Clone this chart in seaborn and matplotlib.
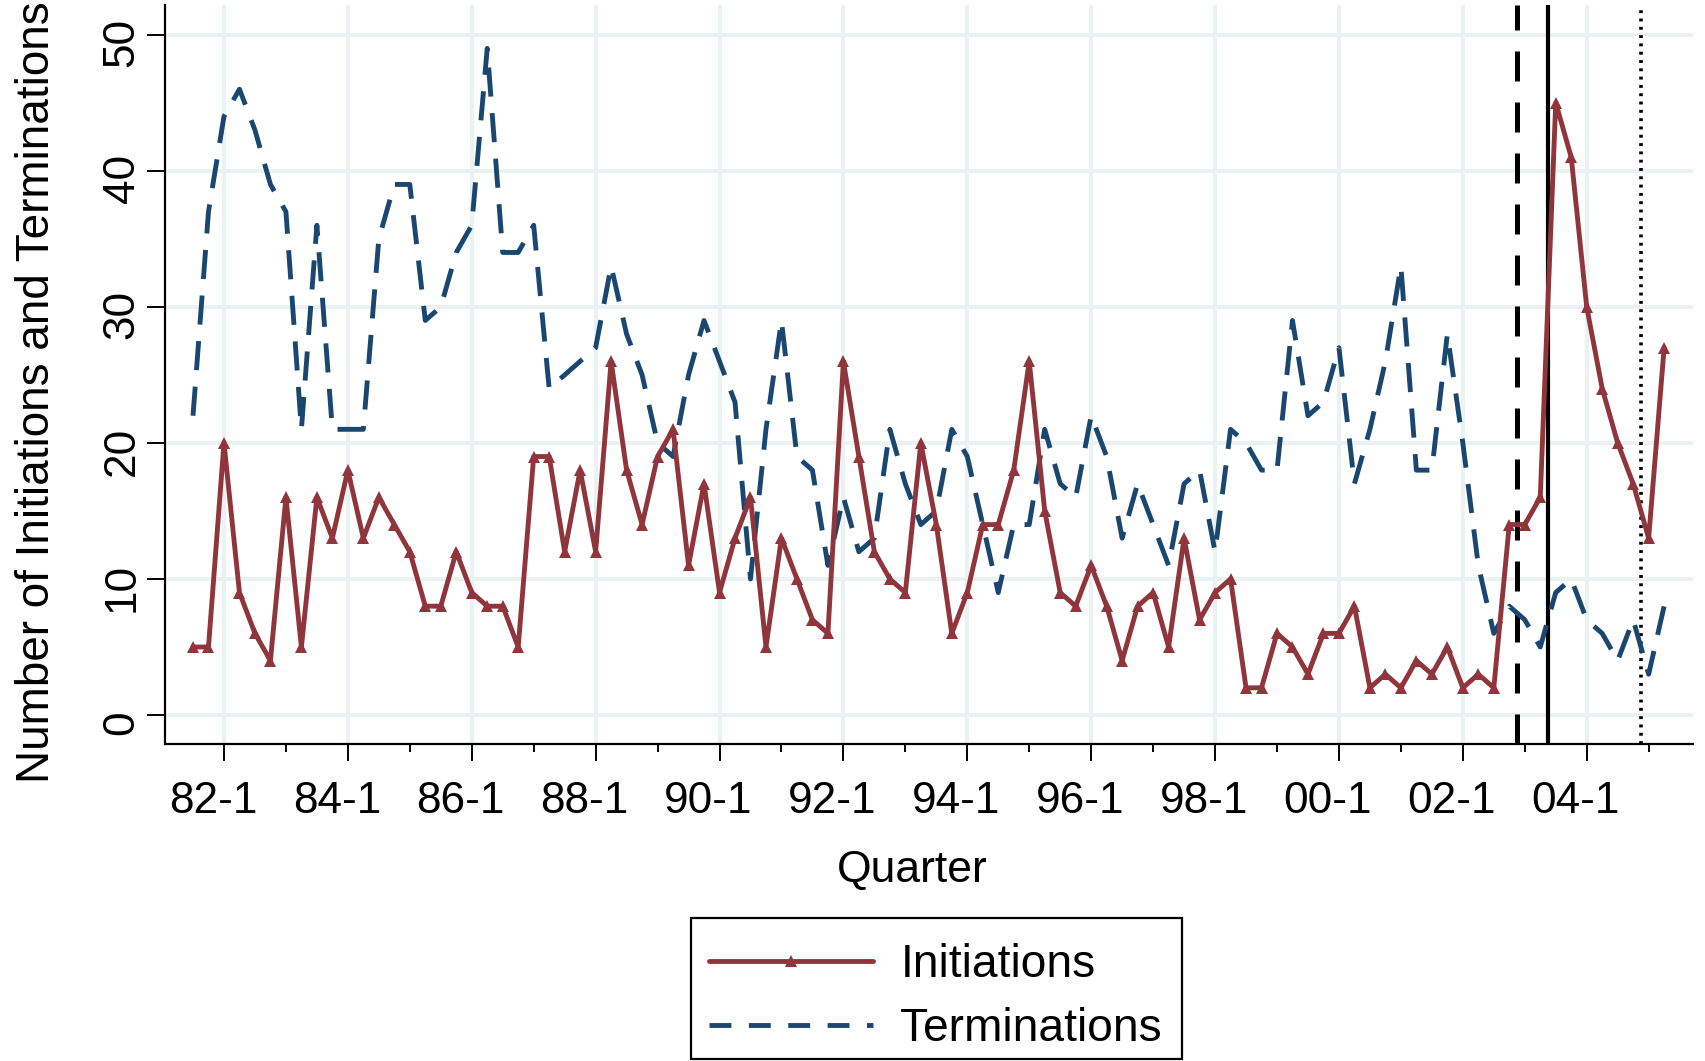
import numpy as np
import pandas as pd
import matplotlib
matplotlib.use("Agg")
import matplotlib.pyplot as plt
import matplotlib.transforms as mtransforms
from matplotlib.lines import Line2D
from matplotlib.patches import Rectangle
import seaborn as sns

# ---------------- data ----------------
quarters = pd.period_range("1981Q3", "2005Q2", freq="Q")

initiations = [5, 5,
               20, 9, 6, 4,
               16, 5, 16, 13,
               18, 13, 16, 14,
               12, 8, 8, 12,
               9, 8, 8, 5,
               19, 19, 12, 18,
               12, 26, 18, 14,
               19, 21, 11, 17,
               9, 13, 16, 5,
               13, 10, 7, 6,
               26, 19, 12, 10,
               9, 20, 14, 6,
               9, 14, 14, 18,
               26, 15, 9, 8,
               11, 8, 4, 8,
               9, 5, 13, 7,
               9, 10, 2, 2,
               6, 5, 3, 6,
               6, 8, 2, 3,
               2, 4, 3, 5,
               2, 3, 2, 14,
               14, 16, 45, 41,
               30, 24, 20, 17,
               13, 27]

terminations = [22, 37,
                44, 46, 43, 39,
                37, 21, 36, 21,
                21, 21, 35, 39,
                39, 29, 30, 34,
                36, 49, 34, 34,
                36, 24, 25, 26,
                27, 33, 28, 25,
                20, 19, 25, 29,
                26, 23, 10, 21,
                29, 19, 18, 11,
                16, 12, 13, 21,
                17, 14, 15, 21,
                19, 14, 9, 14,
                14, 21, 17, 16,
                22, 19, 13, 17,
                14, 11, 17, 18,
                12, 21, 20, 18,
                18, 29, 22, 23,
                27, 17, 21, 26,
                33, 18, 18, 28,
                20, 11, 6, 8,
                7, 5, 9, 10,
                7, 6, 4, 7,
                3, 8]

major_tick_years = list(range(1982, 2005, 2))
minor_tick_years = list(range(1983, 2006, 2))
major_tick_labels = ["82-1", "84-1", "86-1", "88-1", "90-1", "92-1",
                     "94-1", "96-1", "98-1", "00-1", "02-1", "04-1"]
y_ticks = [0, 10, 20, 30, 40, 50]

# event lines: quarter + half-quarter offset
event_quarters = ["2002Q4", "2003Q2", "2004Q4"]
event_styles = ["dashed", "solid", "dotted"]

RED = "#90353B"
BLUE = "#1A476F"
GRID = "#EAF2F3"

# ---------------- figure ----------------
sns.set_theme(style="white")
plt.rcParams['font.family'] = ['Liberation Sans', 'DejaVu Sans']
plt.rcParams['text.color'] = 'black'
plt.rcParams['axes.labelcolor'] = 'black'
plt.rcParams['xtick.color'] = 'black'
plt.rcParams['ytick.color'] = 'black'

W, H = 1706, 1061
fig = plt.figure(figsize=(W / 100, H / 100), dpi=100)
ax_l, ax_r, ax_t, ax_b = 165.5, 1693, 5, 744
ax = fig.add_axes([ax_l / W, 1 - ax_b / H, (ax_r - ax_l) / W, (ax_b - ax_t) / H])

t = quarters.year + (quarters.quarter - 1) / 4
df = pd.DataFrame({"t": t, "Initiations": initiations, "Terminations": terminations})

# grid
ax.set_axisbelow(True)
ax.grid(True, which="major", color=GRID, linewidth=2.8)

# event lines
for q, ls in zip(event_quarters, event_styles):
    p = pd.Period(q, freq="Q")
    xv = p.year + (p.quarter - 1) / 4 + 0.125
    if ls == "dashed":
        ax.axvline(xv, color="black", lw=3.6, dashes=(6.0, 4.2), zorder=2)
    elif ls == "solid":
        ax.axvline(xv, color="black", lw=3.0, zorder=2)
    else:
        ax.axvline(xv, color="black", lw=2.6, dashes=(0.8, 1.5), zorder=2)

LW = 3.5
MS = 8.5
sns.lineplot(data=df, x="t", y="Terminations", ax=ax, color=BLUE, lw=LW,
             estimator=None, sort=False, legend=False, zorder=3)
term_line = ax.lines[-1]
term_line.set_dashes((6.0, 3.4))

sns.lineplot(data=df, x="t", y="Initiations", ax=ax, color=RED, lw=LW,
             marker="^", markersize=MS, markeredgewidth=0, markerfacecolor=RED,
             estimator=None, sort=False, legend=False, zorder=4)

# axes limits and ticks
ax.set_xlim(1981.056, 2005.716)
ax.set_ylim(-2.13, 52.19)
ax.set_xticks(major_tick_years)
ax.set_xticklabels(major_tick_labels)
ax.set_xticks(minor_tick_years, minor=True)
ax.set_yticks(y_ticks)
ax.set_yticklabels([str(v) for v in y_ticks])
ax.set_xlabel("")
ax.set_ylabel("")

FS = 31.8
ax.tick_params(axis="x", which="major", length=12.5, width=1.4, color="black",
               labelsize=FS, labelcolor="black", pad=14.0, direction="out", bottom=True)
ax.tick_params(axis="x", which="minor", length=6, width=1.4, color="black",
               direction="out", bottom=True)
ax.tick_params(axis="y", which="major", length=13, width=1.4, color="black",
               labelsize=FS, labelcolor="black", pad=3.5, direction="out", left=True,
               labelrotation=90)
for lab in ax.get_yticklabels():
    lab.set_va("center")

# label shift (text set slightly toward its start)
for lab in ax.get_xticklabels():
    lab.set_transform(lab.get_transform() +
                      mtransforms.ScaledTranslation(-11 / 100, 0, fig.dpi_scale_trans))
for lab in ax.get_yticklabels():
    lab.set_transform(lab.get_transform() +
                      mtransforms.ScaledTranslation(0, -8 / 100, fig.dpi_scale_trans))

for s in ["top", "right"]:
    ax.spines[s].set_visible(False)
for s in ["left", "bottom"]:
    ax.spines[s].set_color("black")
    ax.spines[s].set_linewidth(1.6)

# axis titles
fig.text(49 / W, 1 - 392 / H, "Number of Initiations and Terminations",
         rotation=90, rotation_mode="anchor", ha="center", va="baseline",
         fontsize=33, color="black")
fig.text(912 / W, 1 - 882 / H, "Quarter", ha="center", va="baseline",
         fontsize=32, color="black")

# legend frame
fig.patches.append(Rectangle((691 / W, 1 - 1059 / H), (1182 - 691) / W, (1059 - 918) / H,
                             transform=fig.transFigure, facecolor="white",
                             edgecolor="black", linewidth=1.6, zorder=0))

handles = [Line2D([], [], color=RED, lw=LW, marker="^", markersize=MS,
                  markeredgewidth=0),
           Line2D([], [], color=BLUE, lw=LW, dashes=(4.5, 3.6))]
leg = fig.legend(handles, ["Initiations", "Terminations"],
                 loc="center left", bbox_to_anchor=(709 / W, 1 - 997 / H),
                 fontsize=33.2, frameon=False, borderpad=0, handlelength=3.55,
                 handletextpad=0.6, labelspacing=0.42, borderaxespad=0,
                 numpoints=1, labelcolor="black")

fig.savefig("out.png", dpi=100, facecolor="white")
